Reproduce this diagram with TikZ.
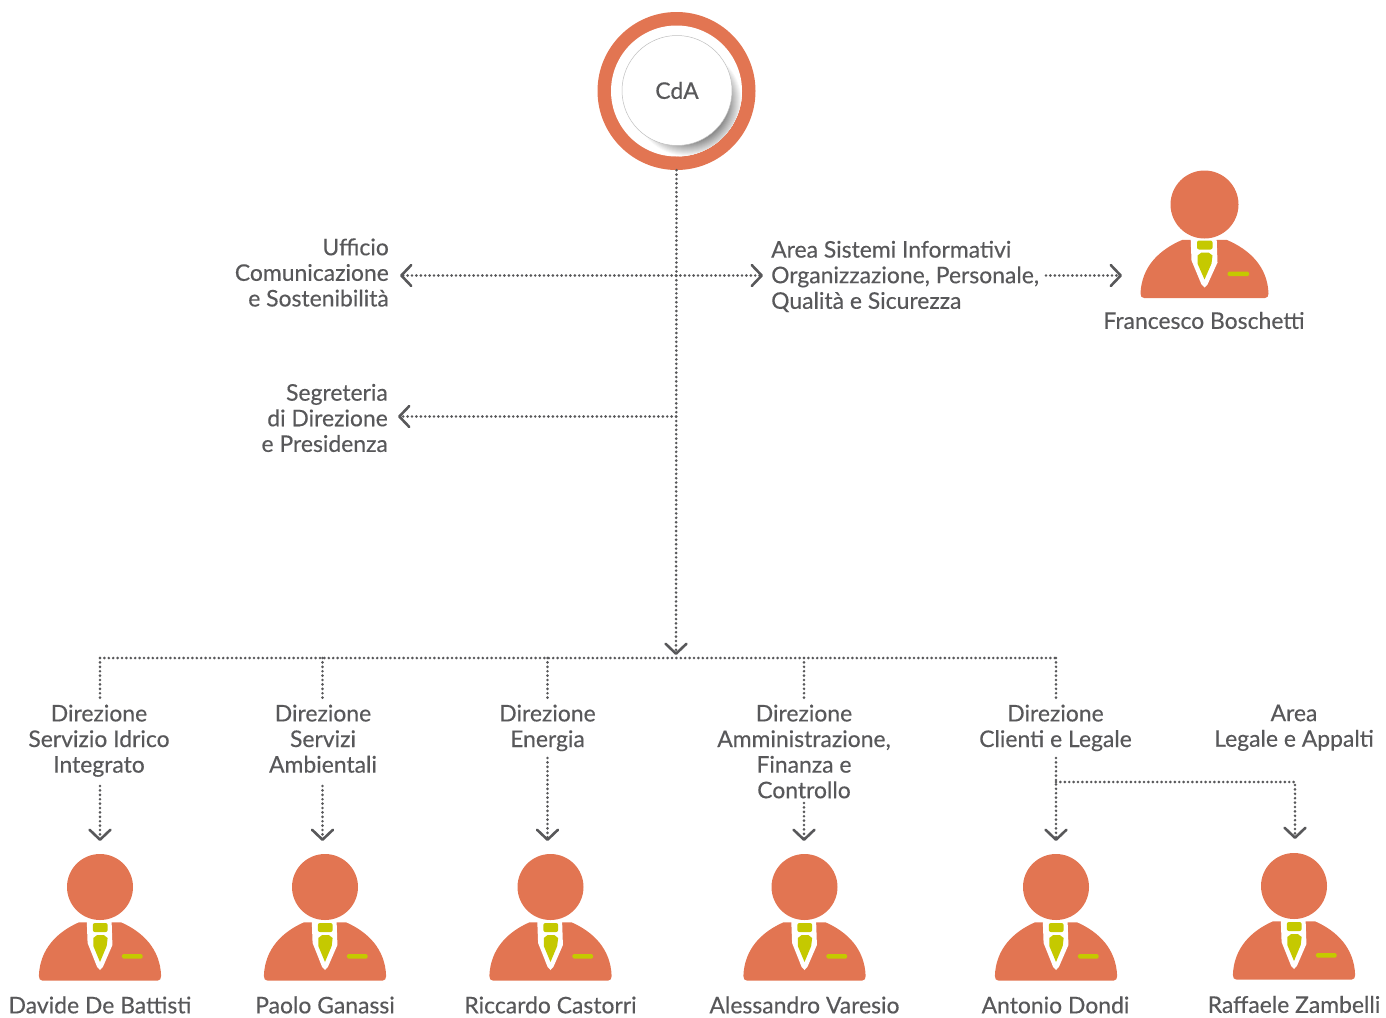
\documentclass[tikz,border=0pt]{standalone}
\usepackage{fontspec}
\setmainfont{Lato}[FakeBold=0.35]
\newfontfamily\lblfont{Lato}[FakeBold=0.35]
\usetikzlibrary{arrows.meta}
\definecolor{orng}{HTML}{E27552}
\definecolor{lime}{HTML}{C5C900}
\definecolor{ink}{HTML}{58585A}
\tikzset{
  dotline/.style={draw=ink,line width=2.9pt,line cap=round,dash pattern=on 0pt off 4.4pt},
  tip/.style={-{Straight Barb[length=10pt,width=21pt,line width=2.6pt,round]}},
  lbl/.style={text=ink,font=\lblfont\fontsize{22.9}{25.6}\selectfont,inner sep=0pt},
  head/.style={circle,fill=orng,inner sep=0pt,minimum size=#1},
}
\newcommand{\person}[5]{% name, cx, cy, xscale, head diameter
  \begin{scope}[shift={(#2,#3)},xscale=#4]
    \fill[orng] (-60,93.7) .. controls (-63,93.7) and (-64,91.5) .. (-64,89)
      .. controls (-63,62) and (-45,45) .. (-22,35.3) -- (22,35.3)
      .. controls (45,45) and (63,62) .. (64,89)
      .. controls (64,91.5) and (63,93.7) .. (60,93.7) -- cycle;
    \fill[white] (-14,30) -- (-13,56) -- (-3,80) -- (0,83) -- (3,80) -- (13,58) -- (12,30) -- cycle;
    \fill[lime,rounded corners=2pt] (-7.5,36) rectangle (8,45);
    \fill[lime] (-7,51) -- (-3,48) -- (4,48) -- (8,51) -- (7,59) -- (0,75) -- (-7,59) -- cycle;
    \fill[lime,rounded corners=1.5pt] (23,67) rectangle (44.7,71.7);
  \end{scope}
  \node[head=#5] (#1) at (#2,#3) {};
}
\begin{document}
\begin{tikzpicture}[x=1pt,y=-1pt]
\useasboundingbox (0,0) rectangle (1386,1017);
% CdA
\node[circle,fill=orng,inner sep=0pt,minimum size=158pt] (cda) at (676.5,91) {};
\fill[white] (676.5,91) circle (65.5);
\begin{scope}
  \clip (676.5,91) circle (65.5);
  \foreach \k in {0,...,15}{
    \pgfmathsetmacro{\rr}{55-\k}
    \pgfmathsetmacro{\gg}{\k*3.2}
    \fill[black!\gg!white] (687.5,102) circle (\rr);
  }
\end{scope}
\node[circle,fill=white,draw=black!25,line width=0.5pt,inner sep=0pt,minimum size=110pt,text=ink,font=\lblfont\fontsize{22.9}{26}\selectfont] (board) at (677,90.5) {CdA};
% labels
\node[lbl,align=right,anchor=east] (uff) at (389,272.5) {Ufficio\\Comunicazione\\e Sostenibilità};
\node[lbl,align=left,anchor=west] (area) at (771,276.5) {Area Sistemi Informativi\\Organizzazione, Personale,\\Qualità e Sicurezza};
\node[lbl,align=right,anchor=east] (seg) at (388,418) {Segreteria\\di Direzione\\e Presidenza};
\node[lbl,align=center,anchor=north] (d1) at (99,704.5) {Direzione\\Servizio Idrico\\Integrato};
\node[lbl,align=center,anchor=north] (d2) at (323,704.5) {Direzione\\Servizi\\Ambientali};
\node[lbl,align=center,anchor=north] (d3) at (547.5,704.5) {Direzione\\Energia};
\node[lbl,align=center,anchor=north] (d4) at (804,704.5) {Direzione\\Amministrazione,\\Finanza e\\Controllo};
\node[lbl,align=center,anchor=north] (d5) at (1055.5,704.5) {Direzione\\Clienti e Legale};
\node[lbl,align=center,anchor=north] (d6) at (1294,704.5) {Area\\Legale e Appalti};
% people
\person{pf}{1204.5}{204.5}{1}{68pt}
\person{p1}{100}{887}{0.955}{66pt}
\person{p2}{325}{887}{0.955}{66pt}
\person{p3}{550.5}{887}{0.955}{66pt}
\person{p4}{804.5}{887}{0.955}{66pt}
\person{p5}{1056}{887}{0.955}{66pt}
\person{p6}{1294}{886}{0.955}{66pt}
\node[lbl] (nf) at (1204,320.5) {Francesco Boschetti};
\node[lbl] (n1) at (100,1005) {Davide De Battisti};
\node[lbl] (n2) at (325,1005) {Paolo Ganassi};
\node[lbl] (n3) at (550.5,1005) {Riccardo Castorri};
\node[lbl] (n4) at (804.5,1005) {Alessandro Varesio};
\node[lbl] (n5) at (1055.5,1005) {Antonio Dondi};
\node[lbl] (n6) at (1294,1004.5) {Raffaele Zambelli};
% junctions
\coordinate (hub) at (676,275.5);
\coordinate (hubs) at (676,416.5);
\coordinate (hube) at (676,655);
\coordinate (ual) at (400,275.5);
\coordinate (uar) at (763,275.5);
\coordinate (afrom) at (1046,275.5);
\coordinate (ato) at (1122,275.5);
\coordinate (sal) at (398,416.5);
\coordinate (b1) at (100,658);
\coordinate (b2) at (322.5,658);
\coordinate (b3) at (547.5,658);
\coordinate (b4) at (804,658);
\coordinate (b5) at (1056,658);
\coordinate (c1) at (100,786);
\coordinate (c2) at (322.5,786);
\coordinate (c3) at (547.5,758);
\coordinate (c4) at (804,803);
\coordinate (c5) at (1056,758);
\coordinate (e1) at (100,841);
\coordinate (e2) at (322.5,841);
\coordinate (e3) at (547.5,841);
\coordinate (e4) at (804,841);
\coordinate (e5) at (1056,841);
\coordinate (k) at (1056,782);
\coordinate (k2) at (1295,782);
\coordinate (e6) at (1295,839);
% connectors
\draw[dotline,tip] (cda.south) -- (hube);
\draw[dotline,tip] (hub) -- (ual);
\draw[dotline,tip] (hub) -- (uar);
\draw[dotline,tip] (afrom) -- (ato);
\draw[dotline,tip] (hubs) -- (sal);
\draw[dotline] (b1) -- (b5);
\foreach \n in {1,...,5}{
  \draw[dotline] (b\n) -- (b\n |- 0,698);
  \draw[dotline,tip] (c\n) -- (e\n);
}
\draw[dotline,tip] (k) -- (k2) -- (e6);
\end{tikzpicture}
\end{document}
